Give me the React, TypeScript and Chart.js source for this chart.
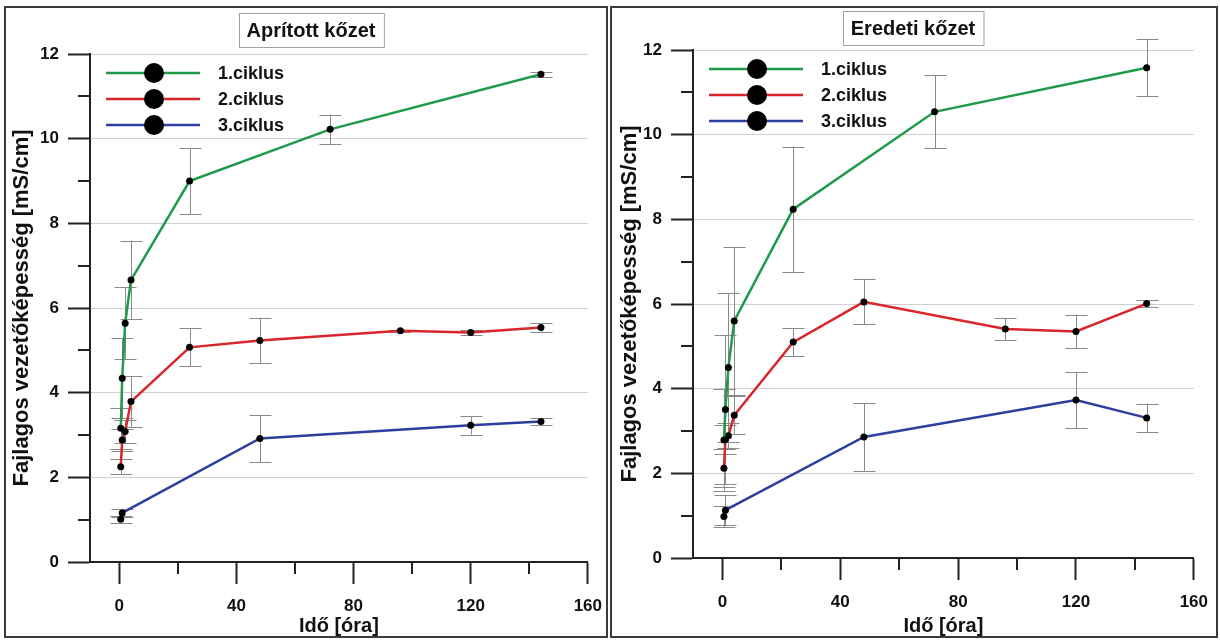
import React, { useEffect, useRef } from "react";
import { Chart, registerables } from "chart.js";

Chart.register(...registerables);

// ---------- shared axis / legend data ----------
const xTicks = [0, 40, 80, 120, 160];
const xMinorTicks = [20, 60, 100, 140];
const yTicks = [0, 2, 4, 6, 8, 10, 12];
const yMinorTicks = [1, 3, 5, 7, 9, 11];
const seriesLabels = ["1.ciklus", "2.ciklus", "3.ciklus"];
const seriesColors = ["#1f9a4b", "#d9262b", "#2e3f9f"];
const xTitle = "Idő [óra]";
const yTitle = "Fajlagos vezetőképesség [mS/cm]";

// ---------- Aprított kőzet ----------
const a1Time = [0.5, 1, 2, 4, 24, 72, 144];
const a1Value = [3.16, 4.34, 5.64, 6.66, 9.0, 10.22, 11.52];
const a1Err = [0.48, 0.95, 0.85, 0.93, 0.78, 0.35, 0.06];

const a2Time = [0.5, 1, 2, 4, 24, 48, 96, 120, 144];
const a2Value = [2.25, 2.88, 3.08, 3.79, 5.07, 5.23, 5.46, 5.42, 5.54];
const a2Err = [0.18, 0.25, 0.28, 0.6, 0.45, 0.54, 0.03, 0.06, 0.1];

const a3Time = [0.5, 1, 48, 120, 144];
const a3Value = [1.01, 1.16, 2.92, 3.23, 3.32];
const a3Err = [0.08, 0.1, 0.56, 0.22, 0.08];

// ---------- Eredeti kőzet ----------
const e1Time = [0.5, 1, 2, 4, 24, 72, 144];
const e1Value = [2.79, 3.51, 4.5, 5.6, 8.24, 10.54, 11.58];
const e1Err = [1.2, 1.76, 1.75, 1.75, 1.48, 0.86, 0.67];

const e2Time = [0.5, 1, 2, 4, 24, 48, 96, 120, 144];
const e2Value = [2.12, 2.8, 2.89, 3.37, 5.1, 6.05, 5.41, 5.35, 6.01];
const e2Err = [0.45, 0.35, 0.3, 0.45, 0.33, 0.53, 0.26, 0.4, 0.08];

const e3Time = [0.5, 1, 48, 120, 144];
const e3Value = [0.98, 1.13, 2.86, 3.73, 3.31];
const e3Err = [0.25, 0.35, 0.8, 0.66, 0.33];

const FONT = "'Liberation Sans', Arial, sans-serif";

type PanelCfg = {
  canvasLeft: number;
  w: number;
  chartLeft: number;
  chartRight: number;
  top: number;
  bottom: number;
  titleX: number;
  titleY: number;
  title: string;
  yTitlePad: number;
  series: { t: number[]; v: number[]; e: number[] }[];
};

const panels: PanelCfg[] = [
  {
    canvasLeft: 0,
    w: 614,
    chartLeft: 90,
    chartRight: 598,
    top: 54,
    bottom: 562,
    titleX: 311,
    titleY: 30,
    title: "Aprított kőzet",
    yTitlePad: 9,
    series: [
      { t: a1Time, v: a1Value, e: a1Err },
      { t: a2Time, v: a2Value, e: a2Err },
      { t: a3Time, v: a3Value, e: a3Err },
    ],
  },
  {
    canvasLeft: 612,
    w: 608,
    chartLeft: 81,
    chartRight: 590,
    top: 50,
    bottom: 558,
    titleX: 301,
    titleY: 28,
    title: "Eredeti kőzet",
    yTitlePad: 5,
    series: [
      { t: e1Time, v: e1Value, e: e1Err },
      { t: e2Time, v: e2Value, e: e2Err },
      { t: e3Time, v: e3Value, e: e3Err },
    ],
  },
];

const errorBarPlugin = {
  id: "errorBars",
  beforeDatasetsDraw(chart: any) {
    const ctx = chart.ctx;
    const xs = chart.scales.x;
    const ys = chart.scales.y;
    ctx.save();
    ctx.strokeStyle = "#8a8a8a";
    ctx.lineWidth = 1;
    chart.data.datasets.forEach((ds: any) => {
      ds.data.forEach((p: any, i: number) => {
        const e = ds.errors[i];
        const px = Math.round(xs.getPixelForValue(p.x)) + 0.5;
        const y1 = ys.getPixelForValue(p.y + e);
        const y2 = ys.getPixelForValue(p.y - e);
        ctx.beginPath();
        ctx.moveTo(px, y1);
        ctx.lineTo(px, y2);
        ctx.moveTo(px - 11, Math.round(y1) + 0.5);
        ctx.lineTo(px + 11, Math.round(y1) + 0.5);
        ctx.moveTo(px - 11, Math.round(y2) + 0.5);
        ctx.lineTo(px + 11, Math.round(y2) + 0.5);
        ctx.stroke();
      });
    });
    ctx.restore();
  },
};

const minorTickPlugin = {
  id: "minorTicks",
  afterDraw(chart: any) {
    const ctx = chart.ctx;
    const xs = chart.scales.x;
    const ys = chart.scales.y;
    const a = chart.chartArea;
    ctx.save();
    ctx.strokeStyle = "#222";
    ctx.lineWidth = 2;
    ctx.beginPath();
    yMinorTicks.forEach((v) => {
      const y = Math.round(ys.getPixelForValue(v));
      ctx.moveTo(a.left - 12, y);
      ctx.lineTo(a.left, y);
    });
    xMinorTicks.forEach((v) => {
      const x = Math.round(xs.getPixelForValue(v));
      ctx.moveTo(x, a.bottom);
      ctx.lineTo(x, a.bottom + 12);
    });
    ctx.stroke();
    ctx.restore();
  },
};

const legendPlugin = {
  id: "insideLegend",
  afterDraw(chart: any) {
    const ctx = chart.ctx;
    const a = chart.chartArea;
    ctx.save();
    chart.data.datasets.forEach((ds: any, i: number) => {
      const x0 = a.left + 16;
      const y = a.top + 19 + i * 26;
      ctx.strokeStyle = ds.borderColor;
      ctx.lineWidth = 2.5;
      ctx.beginPath();
      ctx.moveTo(x0, y);
      ctx.lineTo(x0 + 94, y);
      ctx.stroke();
      ctx.fillStyle = "#000";
      ctx.beginPath();
      ctx.arc(x0 + 48, y, 10, 0, Math.PI * 2);
      ctx.fill();
      ctx.font = `bold 18px ${FONT}`;
      ctx.textBaseline = "middle";
      ctx.textAlign = "left";
      ctx.fillStyle = "#111";
      ctx.fillText(ds.label, x0 + 112, y + 1);
    });
    ctx.restore();
  },
};

const titleBoxPlugin = {
  id: "titleBox",
  afterDraw(chart: any, _args: any, opts: any) {
    const ctx = chart.ctx;
    ctx.save();
    ctx.font = `bold 20px ${FONT}`;
    const w = ctx.measureText(opts.text).width;
    const bw = w + 16;
    const bh = 34;
    const bx = Math.round(opts.x - bw / 2) + 0.5;
    const by = Math.round(opts.y - bh / 2) + 0.5;
    ctx.fillStyle = "#fff";
    ctx.fillRect(bx, by, bw, bh);
    ctx.strokeStyle = "#a0a0a0";
    ctx.lineWidth = 1;
    ctx.strokeRect(bx, by, bw, bh);
    ctx.fillStyle = "#111";
    ctx.textAlign = "center";
    ctx.textBaseline = "middle";
    ctx.fillText(opts.text, opts.x, opts.y + 1);
    ctx.restore();
  },
};

function buildConfig(p: PanelCfg): any {
  const datasets = p.series.map((s, i) => ({
    label: seriesLabels[i],
    data: s.t.map((t, j) => ({ x: t, y: s.v[j] })),
    errors: s.e,
    borderColor: seriesColors[i],
    backgroundColor: seriesColors[i],
    borderWidth: 2.5,
    pointRadius: 3.5,
    pointBackgroundColor: "#000",
    pointBorderColor: "#000",
    pointBorderWidth: 0,
    tension: 0,
  }));
  return {
    type: "line",
    data: { datasets },
    plugins: [errorBarPlugin, minorTickPlugin, legendPlugin, titleBoxPlugin],
    options: {
      animation: false,
      responsive: false,
      devicePixelRatio: 1,
      events: [],
      layout: {
        padding: { top: p.top, right: p.w - p.chartRight, left: 0, bottom: 0 },
      },
      plugins: {
        legend: { display: false },
        title: { display: false },
        tooltip: { enabled: false },
        titleBox: { text: p.title, x: p.titleX, y: p.titleY },
      },
      scales: {
        x: {
          type: "linear",
          min: -10,
          max: 160,
          afterBuildTicks: (axis: any) => {
            axis.ticks = xTicks.map((v) => ({ value: v }));
          },
          afterFit: (scale: any) => {
            scale.height = 641 - p.bottom;
          },
          grid: {
            drawOnChartArea: false,
            tickLength: 22,
            tickColor: "#222",
            tickWidth: 2,
          },
          border: { color: "#222", width: 2 },
          ticks: {
            autoSkip: false,
            maxRotation: 0,
            padding: 12,
            color: "#111",
            font: { family: FONT, size: 17, weight: "bold" },
          },
          title: {
            display: true,
            text: xTitle,
            color: "#111",
            font: { family: FONT, size: 20, weight: "bold" },
            padding: { top: 0, bottom: 3 },
          },
        },
        y: {
          type: "linear",
          min: 0,
          max: 12,
          afterBuildTicks: (axis: any) => {
            axis.ticks = yTicks.map((v) => ({ value: v }));
          },
          afterFit: (scale: any) => {
            scale.width = p.chartLeft;
          },
          grid: {
            color: "#cfcfcf",
            lineWidth: 1,
            tickLength: 22,
            tickColor: "#222",
            tickWidth: 2,
          },
          border: { color: "#222", width: 2 },
          ticks: {
            padding: 9,
            color: "#111",
            font: { family: FONT, size: 17, weight: "bold" },
          },
          title: {
            display: true,
            text: yTitle,
            color: "#111",
            font: { family: FONT, size: 22, weight: "bold" },
            padding: { top: p.yTitlePad, bottom: 0 },
          },
        },
      },
    },
  };
}

function Panel({ cfg }: { cfg: PanelCfg }) {
  const ref = useRef<HTMLCanvasElement>(null);
  useEffect(() => {
    const chart = new Chart(ref.current as HTMLCanvasElement, buildConfig(cfg));
    return () => chart.destroy();
  }, [cfg]);
  return (
    <canvas
      ref={ref}
      width={cfg.w}
      height={641}
      style={{ position: "absolute", left: cfg.canvasLeft, top: 0, width: cfg.w, height: 641 }}
    />
  );
}

export default function App() {
  useEffect(() => {
    document.body.style.margin = "0";
    document.body.style.background = "#fff";
  }, []);
  const border = "2px solid #3a3a3a";
  return (
    <div style={{ position: "relative", width: 1220, height: 641, overflow: "hidden", background: "#fff" }}>
      <Panel cfg={panels[0]} />
      <Panel cfg={panels[1]} />
      <div
        style={{
          position: "absolute",
          left: 4,
          top: 6,
          width: 604,
          height: 632,
          boxSizing: "border-box",
          border,
          pointerEvents: "none",
        }}
      />
      <div
        style={{
          position: "absolute",
          left: 610,
          top: 6,
          width: 608,
          height: 632,
          boxSizing: "border-box",
          border,
          pointerEvents: "none",
        }}
      />
    </div>
  );
}
